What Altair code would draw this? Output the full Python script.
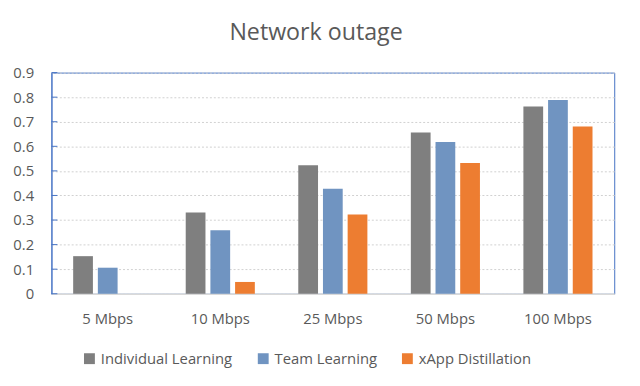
import altair as alt
import pandas as pd

categories = ["5 Mbps", "10 Mbps", "25 Mbps", "50 Mbps", "100 Mbps"]
series = ["Individual Learning", "Team Learning", "xApp Distillation"]
individual = [0.153, 0.331, 0.523, 0.656, 0.762]
team = [0.106, 0.258, 0.427, 0.618, 0.788]
xapp = [0.0, 0.048, 0.323, 0.532, 0.681]
colors = ["#7f7f7f", "#7094c1", "#ed7d31"]
y_ticks = [0, 0.1, 0.2, 0.3, 0.4, 0.5, 0.6, 0.7, 0.8, 0.9]

rows = []
for name, vals in zip(series, [individual, team, xapp]):
    for c, v in zip(categories, vals):
        rows.append({"rate": c, "series": name, "value": v})
df = pd.DataFrame(rows)
ticks_df = pd.DataFrame({"t": y_ticks})

FONT = "Open Sans"
TXT = "#595959"
BLUE = "#4472c4"
FS = 15

y_axis = alt.Axis(title=None, values=y_ticks, ticks=False, domainColor=BLUE,
                  labelOverlap=False,
                  labelExpr="datum.value == 0 ? '0' : format(datum.value, '.1f')",
                  labelPadding=18, labelFontSize=FS, labelColor=TXT, labelFont=FONT,
                  gridColor="#d0d0d0", gridDash=[2, 2], gridWidth=1)
y_scale = alt.Scale(domain=[0, 0.9], nice=False)

bars = alt.Chart(df).mark_bar().encode(
    x=alt.X("rate:N", sort=categories,
            scale=alt.Scale(paddingInner=0.386, paddingOuter=0.193),
            axis=alt.Axis(title=None, labelAngle=0, ticks=False, domainColor="#d9d9d9",
                          domainWidth=1.5, labelPadding=18, labelFontSize=FS,
                          labelColor=TXT, labelFont=FONT, grid=False)),
    xOffset=alt.XOffset("series:N", sort=series,
                        scale=alt.Scale(paddingInner=0.2, paddingOuter=0)),
    y=alt.Y("value:Q", scale=y_scale, axis=y_axis),
    color=alt.Color("series:N", sort=series,
                    scale=alt.Scale(domain=series, range=colors),
                    legend=alt.Legend(title=None, orient="none", direction="horizontal",
                                      legendX=31, legendY=282, symbolType="square",
                                      symbolSize=121, symbolStrokeWidth=0,
                                      labelFontSize=FS, labelColor=TXT, labelFont=FONT,
                                      columnPadding=23, symbolOffset=0, labelOffset=4)),
)

tick_marks = alt.Chart(ticks_df).mark_rule(color=BLUE, strokeWidth=1).encode(
    y=alt.Y("t:Q", scale=y_scale, axis=y_axis),
    x=alt.value(0),
    x2=alt.value(6),
)

chart = alt.layer(bars, tick_marks).properties(
    width=570,
    height=224,
    title=alt.TitleParams("Network outage", fontSize=23.5, font=FONT, color=TXT,
                          fontWeight="normal", anchor="middle", dx=-17, offset=22),
    autosize=alt.AutoSizeParams(type="none"),
    padding={"left": 44, "top": 63, "right": 18, "bottom": 91},
).configure_view(stroke=BLUE, strokeWidth=1)

chart.save("out.html", embed_options={"renderer": "svg", "actions": False})
